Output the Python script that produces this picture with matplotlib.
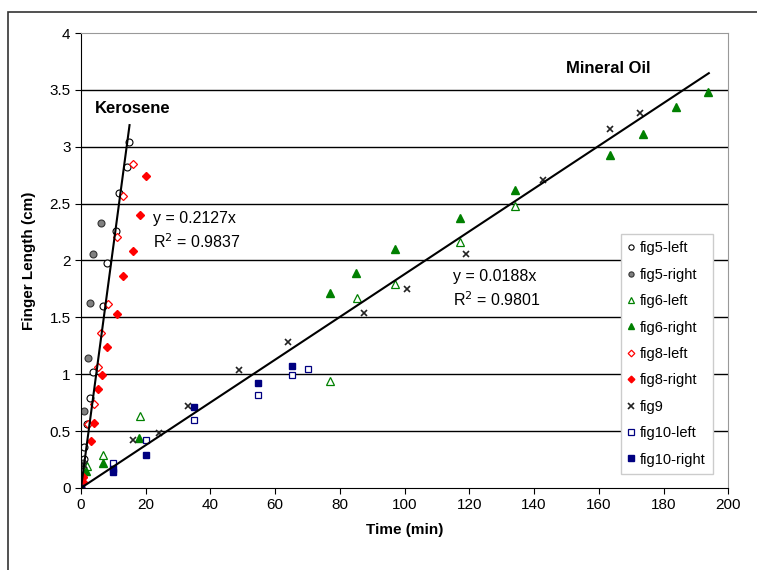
import matplotlib.pyplot as plt
from matplotlib.patches import Rectangle

plt.rcParams['font.family'] = ['Liberation Sans', 'DejaVu Sans']

# data (time in min, finger length in cm)
fig5_left_x = [0.3, 0.5, 0.8, 1.0, 2.0, 2.8, 3.8, 6.7, 7.9, 10.8, 11.7, 14.1, 14.8]
fig5_left_y = [0.05, 0.2, 0.25, 0.36, 0.56, 0.79, 1.02, 1.60, 1.98, 2.26, 2.59, 2.82, 3.04]
fig5_right_x = [0.3, 0.5, 1.0, 2.1, 2.8, 3.8, 6.1]
fig5_right_y = [0.1, 0.22, 0.68, 1.14, 1.63, 2.06, 2.33]
fig6_left_x = [0, 1.7, 6.9, 18.2, 77, 85.2, 96.9, 117.2, 134.2]
fig6_left_y = [0, 0.19, 0.29, 0.63, 0.94, 1.67, 1.79, 2.16, 2.48]
fig6_right_x = [0, 1.5, 6.9, 18.0, 77, 85, 96.9, 117.2, 134, 163.5, 173.6, 183.8, 193.6]
fig6_right_y = [0, 0.15, 0.22, 0.44, 1.71, 1.89, 2.10, 2.37, 2.62, 2.93, 3.11, 3.35, 3.48]
fig8_left_x = [0.5, 2.1, 4.1, 5.1, 6.1, 8.2, 11.0, 13.1, 16.0]
fig8_left_y = [0.1, 0.56, 0.74, 1.06, 1.36, 1.62, 2.21, 2.57, 2.85]
fig8_right_x = [0, 0.5, 0.7, 3.1, 4.1, 5.3, 6.4, 8.1, 11.0, 13.1, 16.0, 18.2, 20.1]
fig8_right_y = [0, 0.05, 0.1, 0.41, 0.57, 0.87, 0.99, 1.24, 1.53, 1.86, 2.08, 2.40, 2.74]
fig9_x = [1.0, 16.0, 24.1, 33.0, 48.9, 63.9, 87.5, 100.6, 118.9, 142.9, 163.5, 172.6]
fig9_y = [0.2, 0.42, 0.48, 0.72, 1.04, 1.28, 1.54, 1.75, 2.06, 2.71, 3.16, 3.30]
fig10_left_x = [0, 10, 20, 35, 54.8, 65.1, 70]
fig10_left_y = [0, 0.22, 0.42, 0.60, 0.82, 0.99, 1.05]
fig10_right_x = [0, 10, 10, 20, 35, 54.8, 65.1]
fig10_right_y = [0, 0.14, 0.17, 0.29, 0.71, 0.92, 1.07]

kerosene_slope = 0.2127
kerosene_xmax = 15
oil_slope = 0.0188
oil_xmax = 194

fig = plt.figure(figsize=(7.57, 5.7), dpi=100)
ax = fig.add_axes([0.107, 0.144, 0.855, 0.798])

for y in [0.5, 1, 1.5, 2, 2.5, 3, 3.5]:
    ax.axhline(y, color='black', lw=1, zorder=0)

ms = 5
ax.plot(fig5_left_x, fig5_left_y, 'o', mfc='white', mec='black', mew=0.8, ms=ms, ls='none', label='fig5-left')
ax.plot(fig5_right_x, fig5_right_y, 'o', mfc='#808080', mec='#333333', mew=0.8, ms=ms, ls='none', label='fig5-right')
ax.plot(fig6_left_x, fig6_left_y, '^', mfc='white', mec='#008000', mew=0.9, ms=ms+0.5, ls='none', label='fig6-left')
ax.plot(fig6_right_x, fig6_right_y, '^', mfc='#008000', mec='#008000', ms=ms+0.5, ls='none', label='fig6-right')
ax.plot(fig8_left_x, fig8_left_y, 'D', mfc='white', mec='#ff0000', mew=0.9, ms=ms-0.5, ls='none', label='fig8-left')
ax.plot(fig8_right_x, fig8_right_y, 'D', mfc='#ff0000', mec='#ff0000', ms=ms-0.5, ls='none', label='fig8-right')
ax.plot(fig9_x, fig9_y, 'x', color='#222222', mew=1.2, ms=ms, ls='none', label='fig9')
ax.plot(fig10_left_x, fig10_left_y, 's', mfc='white', mec='#000080', mew=0.9, ms=ms, ls='none', label='fig10-left')
ax.plot(fig10_right_x, fig10_right_y, 's', mfc='#000080', mec='#000080', ms=ms, ls='none', label='fig10-right')

ax.plot([0, kerosene_xmax], [0, kerosene_slope * kerosene_xmax], color='black', lw=1.5)
ax.plot([0, oil_xmax], [0, oil_slope * oil_xmax], color='black', lw=1.5)

ax.text(4.3, 3.34, 'Kerosene', fontsize=12, fontweight='bold', va='center')
ax.text(150, 3.69, 'Mineral Oil', fontsize=12, fontweight='bold', va='center')
ax.text(22.3, 2.37, 'y = 0.2127x', fontsize=11.5, va='center')
ax.text(22.3, 2.17, 'R$^2$ = 0.9837', fontsize=11.5, va='center')
ax.text(115, 1.86, 'y = 0.0188x', fontsize=11.5, va='center')
ax.text(115, 1.66, 'R$^2$ = 0.9801', fontsize=11.5, va='center')

ax.set_xlim(0, 200)
ax.set_ylim(0, 4)
ax.set_xticks(range(0, 201, 20))
ax.set_yticks([0, 0.5, 1, 1.5, 2, 2.5, 3, 3.5, 4])
ax.set_yticklabels(['0', '0.5', '1', '1.5', '2', '2.5', '3', '3.5', '4'])
ax.tick_params(direction='out', length=4, labelsize=11)
ax.spines['top'].set_color('#999999')
ax.spines['right'].set_color('#999999')
ax.set_xlabel('Time (min)', fontsize=11, fontweight='bold', labelpad=8)
ax.set_ylabel('Finger Length (cm)', fontsize=11, fontweight='bold', labelpad=10)

leg = ax.legend(loc='lower right', bbox_to_anchor=(0.987, 0.015), fontsize=10.5, markerscale=0.75,
                handlelength=0.5, handletextpad=0.3, labelspacing=0.85, borderpad=0.5,
                fancybox=False, framealpha=1, edgecolor='#cccccc')

fig.patches.append(Rectangle((8 / 757, -0.1), 1.2, 1.1 - 12 / 570, transform=fig.transFigure,
                             fill=False, edgecolor='#333333', lw=1.2))

fig.savefig('out.png', dpi=100)
